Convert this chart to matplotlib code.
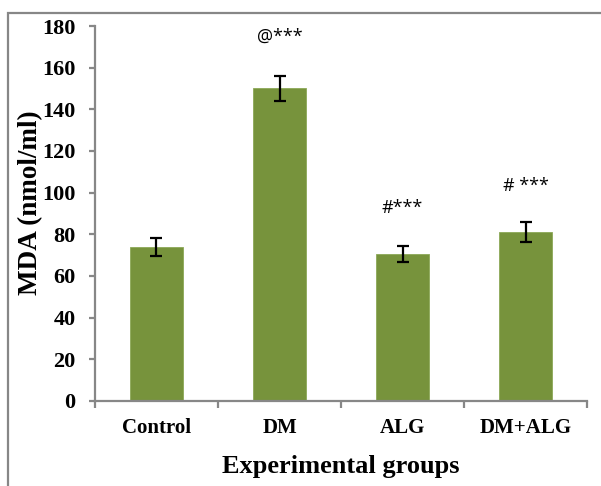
import matplotlib.pyplot as plt
from matplotlib.patches import Rectangle

# values
groups = ['Control', 'DM', 'ALG', 'DM+ALG']
mda = [73.8, 150.0, 70.6, 81.0]
mda_err = [4.3, 6.2, 3.7, 4.8]
marks = ['', '@***', '#***', '# ***']
mark_y = [0, 175, 92.5, 103]

bar_color = '#77933C'
grey = '#878787'

fig = plt.figure(figsize=(6.01, 4.86), dpi=100)
ax = fig.add_axes([0.158, 0.175, 0.819, 0.7715])

# outer frame, only top and left edges are inside the picture
fig.patches.append(Rectangle((8 / 601, -0.1), 1.2, 1 - 13 / 486 + 0.1,
                             transform=fig.transFigure, fill=False,
                             edgecolor=grey, linewidth=1.6))

x = range(len(groups))
ax.bar(x, mda, width=0.43, color=bar_color, edgecolor='#8ca857', linewidth=0.6, zorder=2)
ax.errorbar(x, mda, yerr=mda_err, fmt='none', ecolor='black', elinewidth=1.6,
            capsize=4.5, capthick=1.6, zorder=3)

for i, m in enumerate(marks):
    if m:
        ax.text(i, mark_y[i], m, ha='center', va='center', fontsize=13,
                family='Open Sans', color='black')

ax.set_xlim(-0.5, 3.5)
ax.set_ylim(0, 180)
ax.set_yticks(range(0, 181, 20))
ax.set_xticks(list(x))
ax.set_xticklabels(groups)
ax.set_xticks([-0.5, 0.5, 1.5, 2.5, 3.5], minor=True)

for s in ['top', 'right']:
    ax.spines[s].set_visible(False)
for s in ['left', 'bottom']:
    ax.spines[s].set_color(grey)
    ax.spines[s].set_linewidth(1.6)

ax.tick_params(axis='y', length=4, width=1.6, color=grey, pad=10)
ax.tick_params(axis='x', which='major', length=0, pad=12)
ax.tick_params(axis='x', which='minor', length=5, width=1.6, color=grey)
for lab in ax.get_yticklabels():
    lab.set_fontfamily('Liberation Serif')
    lab.set_fontweight('bold')
    lab.set_fontsize(16)
for lab in ax.get_xticklabels():
    lab.set_fontfamily('Liberation Serif')
    lab.set_fontweight('bold')
    lab.set_fontsize(15)

ax.set_xlabel('Experimental groups', family='Liberation Serif', weight='bold', fontsize=19)
ax.set_ylabel('MDA (nmol/ml)', family='Liberation Serif', weight='bold', fontsize=19.5)
ax.xaxis.set_label_coords(0.5, -0.145)
ax.yaxis.set_label_coords(-0.106, 0.53)

fig.savefig('out.png', dpi=100)
